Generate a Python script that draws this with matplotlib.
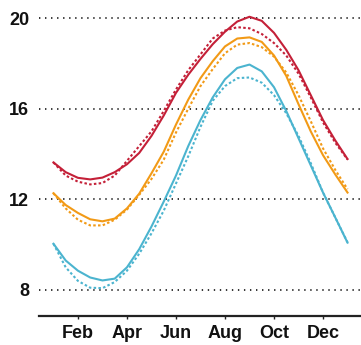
import numpy as np
import matplotlib
matplotlib.use("Agg")
import matplotlib.pyplot as plt

# half-month positions, Jan 1 (=1) to Jan 1 of next year (=13)
months = np.arange(1, 13.01, 0.5)

red_solid = [13.63, 13.2, 12.95, 12.88, 12.96, 13.2, 13.55, 14.05, 14.8, 15.7, 16.7, 17.5, 18.2,
             18.85, 19.4, 19.85, 20.06, 19.88, 19.35, 18.6, 17.7, 16.6, 15.5, 14.6, 13.78]
red_dot = [13.63, 13.05, 12.78, 12.66, 12.72, 13.05, 13.7, 14.35, 15.0, 15.9, 16.85, 17.7, 18.4,
           19.1, 19.45, 19.6, 19.55, 19.3, 18.9, 18.35, 17.55, 16.5, 15.4, 14.5, 13.76]
orange_solid = [12.27, 11.75, 11.4, 11.12, 11.03, 11.15, 11.6, 12.25, 13.15, 14.1, 15.3, 16.4, 17.35,
                18.1, 18.75, 19.1, 19.15, 18.95, 18.35, 17.45, 16.2, 15.0, 13.95, 13.1, 12.3]
orange_dot = [12.27, 11.6, 11.1, 10.85, 10.85, 11.1, 11.55, 12.2, 12.9, 13.75, 14.95, 16.0, 17.0,
              17.75, 18.45, 18.83, 18.9, 18.72, 18.3, 17.6, 16.6, 15.45, 14.25, 13.3, 12.45]
blue_solid = [10.04, 9.3, 8.85, 8.55, 8.42, 8.5, 9.0, 9.8, 10.8, 11.9, 13.05, 14.35, 15.5,
              16.5, 17.3, 17.8, 17.95, 17.65, 16.95, 15.9, 14.7, 13.5, 12.3, 11.2, 10.09]
blue_dot = [10.04, 9.0, 8.4, 8.1, 8.08, 8.35, 8.85, 9.6, 10.5, 11.5, 12.7, 13.9, 15.2,
            16.35, 17.0, 17.35, 17.38, 17.15, 16.6, 15.8, 14.8, 13.6, 12.3, 11.2, 10.1]

tick_pos = [2, 4, 6, 8, 10, 12]
tick_labels = ["Feb", "Apr", "Jun", "Aug", "Oct", "Dec"]
y_ticks = [8, 12, 16, 20]

red = "#c42038"
orange = "#f29a16"
blue = "#4bb4cf"

plt.rcParams["font.family"] = ["Liberation Sans", "DejaVu Sans"]

fig = plt.figure(figsize=(3.61, 3.45), dpi=100)
ax = fig.add_axes([0.108, 0.084, 0.892, 0.916])

for vals, c in [(blue_dot, blue), (orange_dot, orange), (red_dot, red)]:
    ax.plot(months, vals, color=c, lw=1.5, linestyle=(0, (1.2, 1.1)))
for vals, c in [(blue_solid, blue), (orange_solid, orange), (red_solid, red)]:
    ax.plot(months, vals, color=c, lw=1.5, solid_joinstyle="round")

ax.set_xlim(0.41, 13.55)
ax.set_ylim(6.85, 20.8)
ax.set_yticks(y_ticks)
ax.set_yticklabels([str(v) for v in y_ticks], fontweight="bold", fontsize=13)
ax.set_xticks(tick_pos)
ax.set_xticklabels(tick_labels, fontweight="bold", fontsize=13)

ax.yaxis.grid(True, color="#333333", linestyle=(0, (0.7, 2.4)), linewidth=1.4)
ax.set_axisbelow(True)
for s in ["left", "right", "top"]:
    ax.spines[s].set_visible(False)
ax.spines["bottom"].set_linewidth(1.6)
ax.spines["bottom"].set_color("#222222")
ax.tick_params(axis="y", length=0, pad=7, colors="#111111")
ax.tick_params(axis="x", length=2.5, width=1, pad=4, colors="#222222")
for lab in ax.get_xticklabels():
    lab.set_color("#111111")

fig.savefig("out.png", dpi=100)
